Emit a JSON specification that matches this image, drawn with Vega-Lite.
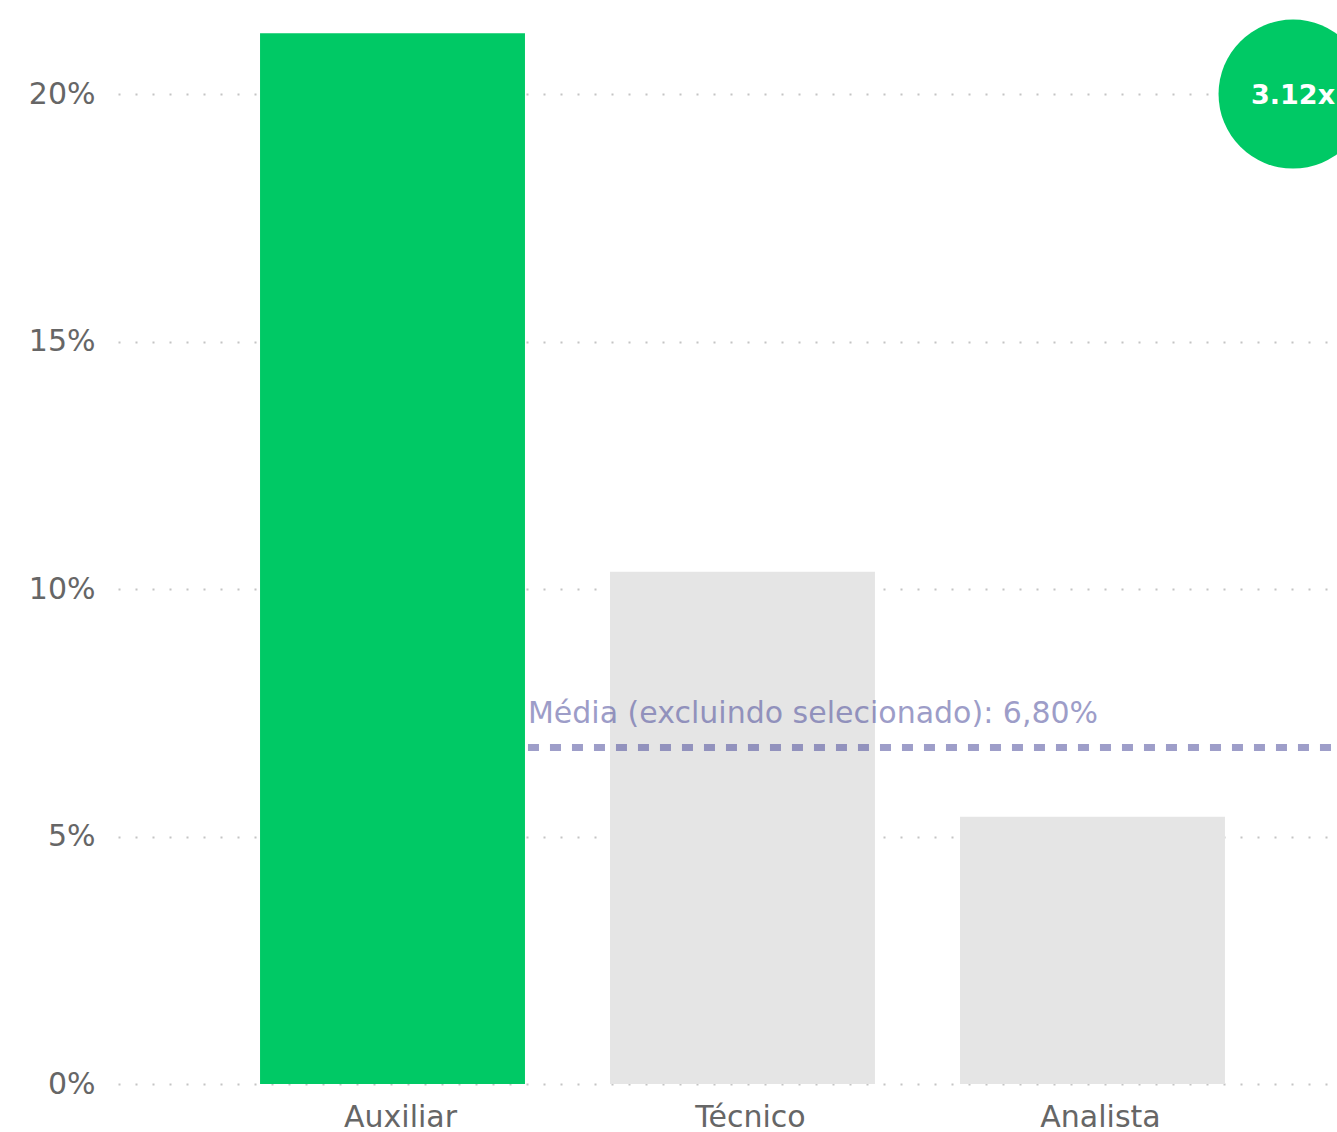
{
  "$schema": "https://vega.github.io/schema/vega-lite/v6.json",
  "width": 1219,
  "height": 1079,
  "autosize": {"type": "none"},
  "padding": {"left": 118, "top": 5, "right": 0, "bottom": 48},
  "config": {
    "view": {"stroke": null},
    "font": "DejaVu Sans",
    "axis": {"labelFont": "DejaVu Sans", "labelFontSize": 30, "labelColor": "#666666"}
  },
  "layer": [
    {
      "data": {
        "values": [
          {"cargo": "Auxiliar", "valor": 21.23, "grupo": "selecionado"},
          {"cargo": "Técnico", "valor": 10.35, "grupo": "outros"},
          {"cargo": "Analista", "valor": 5.40, "grupo": "outros"}
        ]
      },
      "mark": {"type": "bar"},
      "encoding": {
        "x": {
          "field": "cargo", "type": "nominal",
          "scale": {"domain": ["Auxiliar", "Técnico", "Analista"], "paddingInner": 0.243, "paddingOuter": 0.363, "align": 0.559},
          "axis": {"title": null, "domain": false, "ticks": false, "labelAngle": 0, "labelPadding": 18, "labelOffset": 8, "grid": false}
        },
        "y": {
          "field": "valor", "type": "quantitative",
          "scale": {"domain": [0, 21.8], "nice": false},
          "axis": {"title": null, "domain": false, "ticks": false, "labelPadding": 23, "values": [0, 5, 10, 15, 20], "labelExpr": "datum.value + '%'", "grid": true, "gridColor": "#c4c4c4", "gridDash": [2, 15], "gridWidth": 2}
        },
        "color": {
          "field": "grupo", "type": "nominal",
          "scale": {"domain": ["selecionado", "outros"], "range": ["#00C965", "#E5E5E5"]},
          "legend": null
        }
      }
    },
    {
      "data": {"values": [{"ref": "Auxiliar", "media": 6.8, "rotulo": "Média (excluindo selecionado): 6,80%"}]},
      "layer": [
        {
          "mark": {"type": "rule", "color": "#4e4e9c", "opacity": 0.55, "strokeWidth": 7, "strokeDash": [11, 11], "strokeDashOffset": -3},
          "encoding": {
            "x": {"field": "ref", "type": "nominal", "bandPosition": 1},
            "x2": {"value": "width"},
            "y": {"field": "media", "type": "quantitative"}
          }
        },
        {
          "mark": {"type": "text", "color": "#4e4e9c", "opacity": 0.55, "fontSize": 30, "align": "left", "baseline": "alphabetic", "dx": 3, "dy": -24},
          "encoding": {
            "x": {"field": "ref", "type": "nominal", "bandPosition": 1},
            "y": {"field": "media", "type": "quantitative"},
            "text": {"field": "rotulo"}
          }
        }
      ]
    },
    {
      "data": {"values": [{"ref": "Analista", "posicao": 20, "rotulo": "3.12x"}]},
      "layer": [
        {
          "mark": {"type": "circle", "color": "#00C965", "opacity": 1, "size": 22200},
          "encoding": {
            "x": {"field": "ref", "type": "nominal", "bandPosition": 1.257},
            "y": {"field": "posicao", "type": "quantitative"}
          }
        },
        {
          "mark": {"type": "text", "color": "white", "fontSize": 27, "fontWeight": "bold", "align": "center", "baseline": "middle", "dy": 2},
          "encoding": {
            "x": {"field": "ref", "type": "nominal", "bandPosition": 1.257},
            "y": {"field": "posicao", "type": "quantitative"},
            "text": {"field": "rotulo"}
          }
        }
      ]
    }
  ]
}
